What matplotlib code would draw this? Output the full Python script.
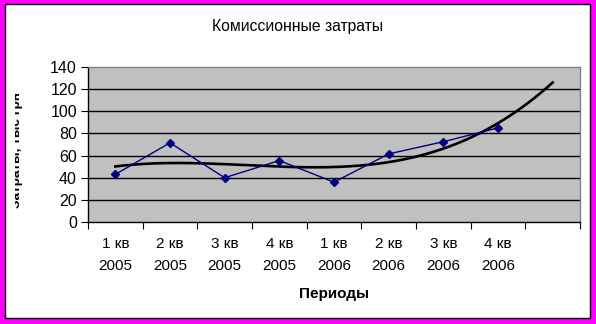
import numpy as np
import matplotlib
matplotlib.use("Agg")
import matplotlib.pyplot as plt
from matplotlib.patches import Rectangle
from matplotlib.transforms import Bbox

plt.rcParams['font.family'] = ['Liberation Sans', 'DejaVu Sans']

# data
categories = ["1 кв\n2005", "2 кв\n2005", "3 кв\n2005", "4 кв\n2005",
              "1 кв\n2006", "2 кв\n2006", "3 кв\n2006", "4 кв\n2006", ""]
values = [43, 71.5, 40, 55.5, 36, 61.5, 72.5, 85]
y_ticks = [0, 20, 40, 60, 80, 100, 120, 140]
title = "Комиссионные затраты"
xlabel = "Периоды"
ylabel = "Затраты, тыс грн"
trend_degree = 3

W, H = 596, 324
fig = plt.figure(figsize=(W / 100, H / 100), dpi=100)
fig.patch.set_facecolor('#FF00FF')
fig.patches.append(Rectangle((5 / W, 6 / H), (590 - 5) / W, (320 - 6) / H,
                             transform=fig.transFigure, facecolor='white',
                             edgecolor='black', linewidth=1.0, zorder=-1))

ax = fig.add_axes([88 / W, (H - 222) / H, (580 - 88) / W, (222 - 67) / H])
ax.set_facecolor('#C0C0C0')

x = np.arange(1, len(values) + 1)
# polynomial trend (cubic), extended one period ahead
coef = np.polyfit(x, values, trend_degree)
xt = np.linspace(1, len(categories), 200)
ax.plot(xt, np.polyval(coef, xt), color='black', lw=1.9, zorder=3)

ax.plot(x, values, color='#000080', lw=1.0, marker='D', markersize=4.5,
        markerfacecolor='#000080', markeredgecolor='#000080', zorder=4)

ax.set_xlim(0.5, len(categories) + 0.5)
ax.set_ylim(0, 140)
ax.set_yticks(y_ticks)
ax.set_yticklabels([str(v) for v in y_ticks], fontsize=11.5)
for v in y_ticks[1:-1]:
    ax.axhline(v, color='black', lw=1.0, zorder=1)

ax.set_xticks(np.arange(0.5, len(categories) + 1, 1.0))
ax.set_xticklabels([])
ax.set_xticks(np.arange(1, len(categories) + 1), minor=True)
ax.set_xticklabels(categories, minor=True, fontsize=11, linespacing=1.7)
ax.tick_params(axis='x', which='minor', length=0, pad=11)
ax.tick_params(axis='x', which='major', length=5, direction='out', color='black')
ax.tick_params(axis='y', length=5, direction='out', color='black', pad=3)

for s in ['left', 'bottom']:
    ax.spines[s].set_color('black')
    ax.spines[s].set_linewidth(1.0)
for s in ['top', 'right']:
    ax.spines[s].set_color('#808080')
    ax.spines[s].set_linewidth(1.0)

fig.text(298 / W, 1 - 27 / H, title, ha='center', va='center', fontsize=11.3)
fig.text(334 / W, 1 - 294 / H, xlabel, ha='center', va='center', fontsize=11,
         fontweight='bold')
t = fig.text(23 / W, 1 - 150 / H, ylabel, ha='right', va='center', rotation=90,
             fontsize=9.7, fontweight='bold')
t.set_clip_box(Bbox.from_extents(15, 0, W, H))
t.set_clip_on(True)

fig.savefig('out.png', dpi=100, facecolor=fig.get_facecolor())
